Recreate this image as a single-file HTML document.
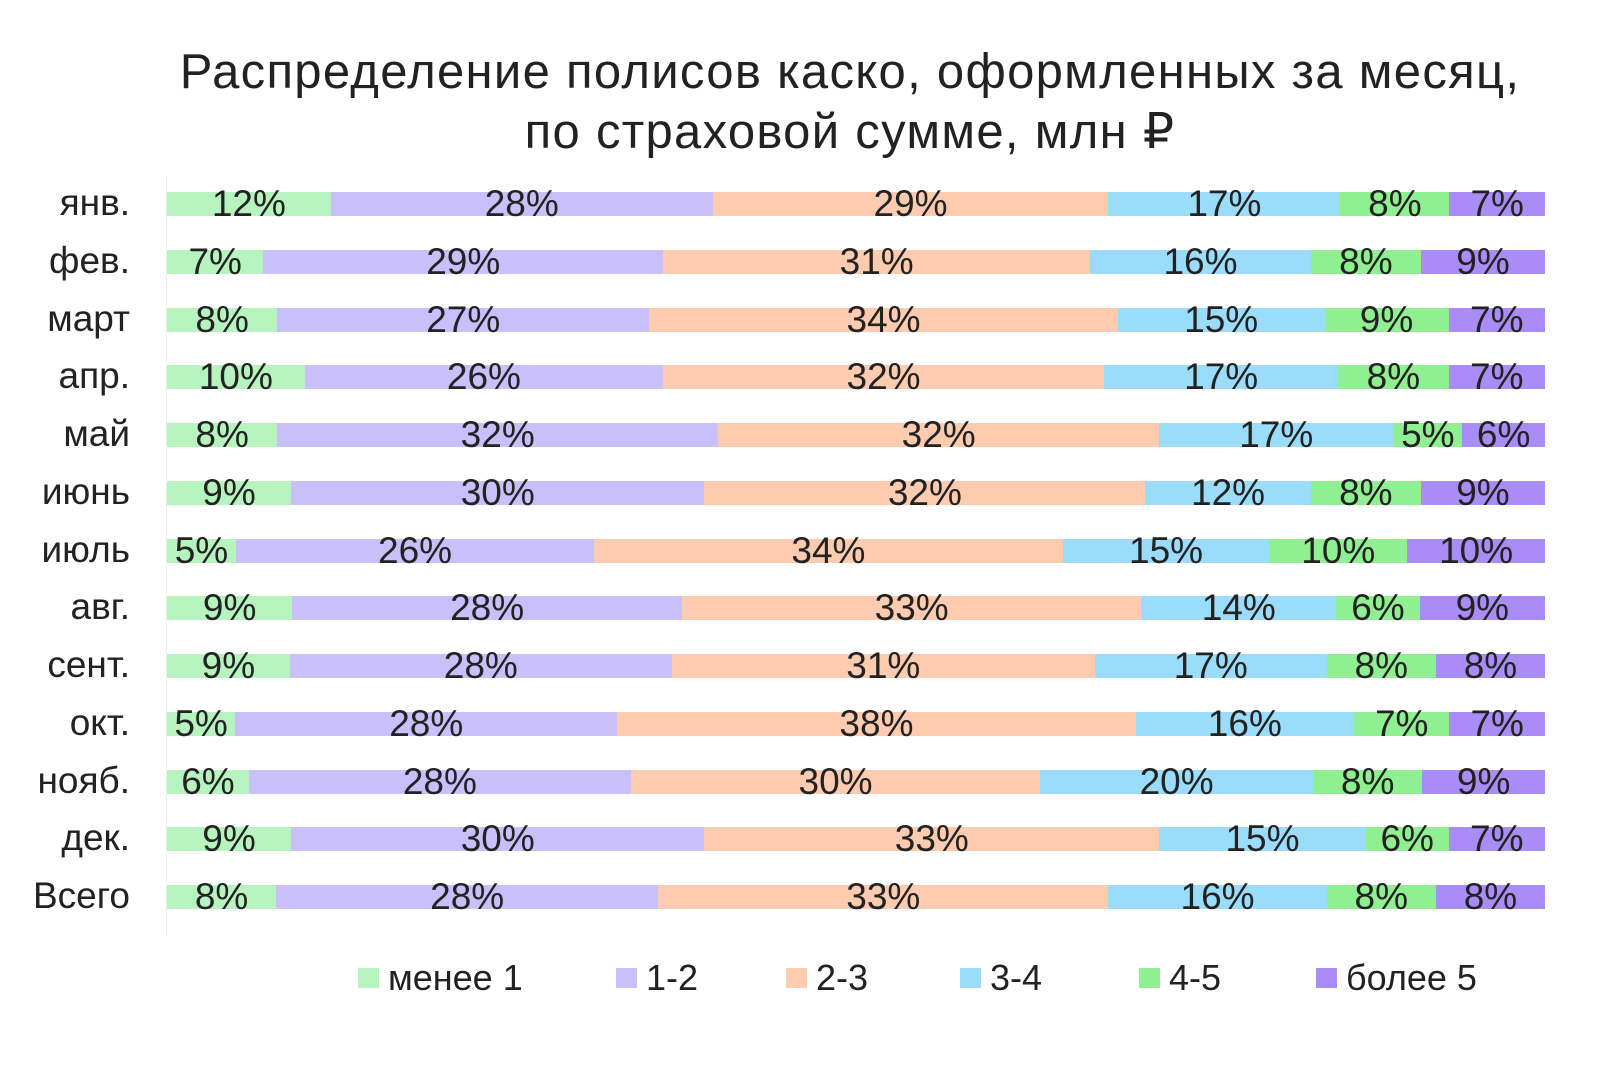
<!DOCTYPE html>
<html><head><meta charset="utf-8"><style>
body{margin:0;width:1620px;height:1067px;background:#fff;font-family:"Liberation Sans","DejaVu Sans",sans-serif;color:#222;position:relative;overflow:hidden}
.title{position:absolute;left:140px;width:1420px;top:42px;text-align:center;font-size:49px;letter-spacing:1.3px;line-height:60px;color:#222}
.axis{position:absolute;left:166px;top:176px;width:1px;height:760px;background:#eee}
.row{position:absolute;left:0;width:1620px;height:24px}
.lab{position:absolute;right:1490px;top:-9px;font-size:37px;line-height:40px;text-align:right;white-space:nowrap}
.bar{position:absolute;left:167px;width:1378px;height:24px;top:0;display:flex}
.bar div{height:24px;display:flex;justify-content:center;align-items:center;font-size:37px;overflow:visible;white-space:nowrap}
.a{background:#b7f3bf}.b{background:#c8bffb}.c{background:#fccbb0}.d{background:#9bdcfa}.e{background:#90ef90}.f{background:#a98cf5}
.leg{position:absolute;top:960px;font-size:36px;line-height:36px;display:flex;align-items:center}
.leg span{display:inline-block;width:21px;height:20px;margin-right:9px}
</style></head><body>
<div class="title">Распределение полисов каско, оформленных за месяц,<br>по страховой сумме, млн ₽</div>
<div class="axis"></div>
<div id="rows"></div>
<div class="leg" style="left:358px"><span class="a"></span>менее 1</div>
<div class="leg" style="left:616px"><span class="b"></span>1-2</div>
<div class="leg" style="left:786px"><span class="c"></span>2-3</div>
<div class="leg" style="left:960px"><span class="d"></span>3-4</div>
<div class="leg" style="left:1139px"><span class="e"></span>4-5</div>
<div class="leg" style="left:1316px"><span class="f"></span>более 5</div>
<script>
var d=[["янв.",12,28,29,17,8,7],["фев.",7,29,31,16,8,9],["март",8,27,34,15,9,7],["апр.",10,26,32,17,8,7],["май",8,32,32,17,5,6],["июнь",9,30,32,12,8,9],["июль",5,26,34,15,10,10],["авг.",9,28,33,14,6,9],["сент.",9,28,31,17,8,8],["окт.",5,28,38,16,7,7],["нояб.",6,28,30,20,8,9],["дек.",9,30,33,15,6,7],["Всего",8,28,33,16,8,8]];
var cl="abcdef",h="";
d.forEach(function(r,i){var t=192+i*57.75;h+='<div class="row" style="top:'+t+'px"><div class="lab">'+r[0]+'</div><div class="bar">';
for(var j=1;j<7;j++)h+='<div class="'+cl[j-1]+'" style="flex:'+r[j]+' 1 0">'+r[j]+'%</div>';h+='</div></div>';});
document.getElementById("rows").innerHTML=h;
</script>
</body></html>
